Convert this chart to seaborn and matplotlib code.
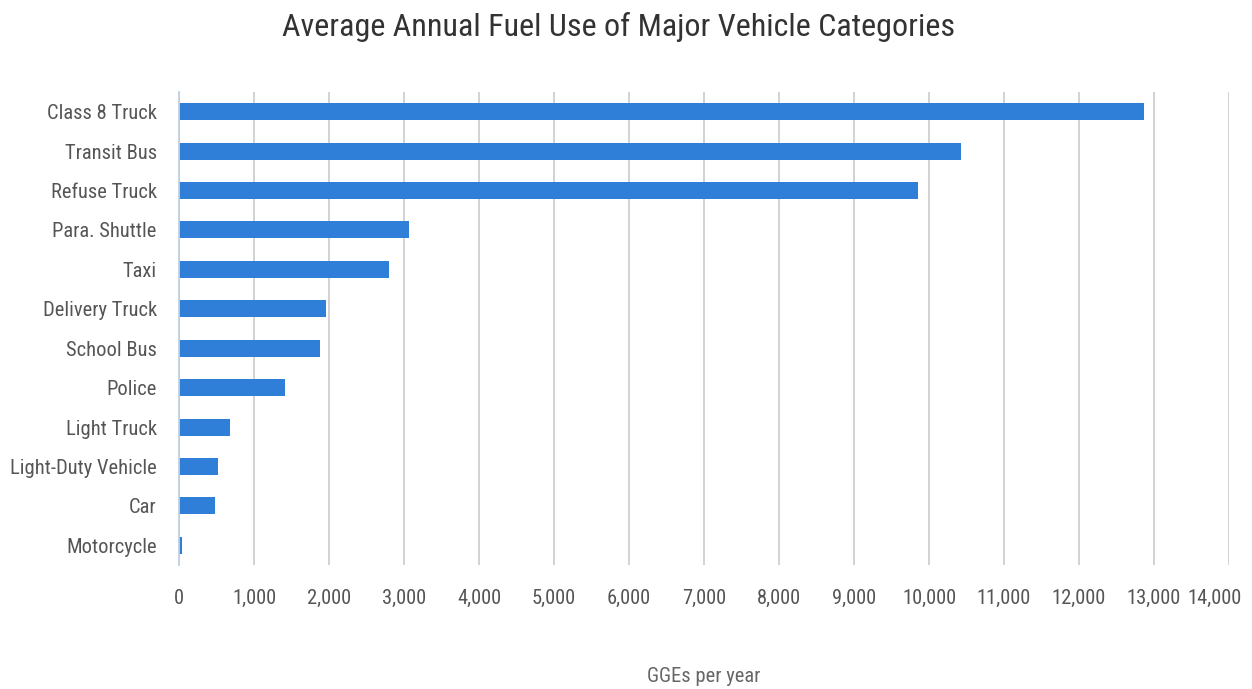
import matplotlib
matplotlib.use("Agg")
import matplotlib.pyplot as plt
from matplotlib import font_manager
from matplotlib.ticker import FixedLocator, FuncFormatter
from matplotlib.transforms import ScaledTranslation
import seaborn as sns
import pandas as pd

categories = [
    "Class 8 Truck", "Transit Bus", "Refuse Truck", "Para. Shuttle", "Taxi",
    "Delivery Truck", "School Bus", "Police", "Light Truck",
    "Light-Duty Vehicle", "Car", "Motorcycle",
]
gge_per_year = [12870, 10420, 9850, 3060, 2800, 1960, 1880, 1410, 680, 520, 480, 40]
x_ticks = list(range(0, 14001, 1000))

title = "Average Annual Fuel Use of Major Vehicle Categories"
x_label = "GGEs per year"

sns.set_theme(style="white")
available = {f.name for f in font_manager.fontManager.ttflist}
narrow = [n for n in ("Liberation Sans Narrow", "DejaVu Sans Condensed",
                      "Roboto Condensed", "Open Sans Condensed") if n in available]
family = narrow[0] if narrow else "Open Sans"
plt.rcParams["font.family"] = [family, "DejaVu Sans"]
if narrow:
    plt.rcParams["font.stretch"] = "condensed"
scale = 1.0 if narrow else 0.88

df = pd.DataFrame({"vehicle": categories, "gge": gge_per_year})

fig = plt.figure(figsize=(12.52, 6.89), dpi=100)
ax = fig.add_axes([179 / 1252, 1 - 565 / 689, (1229 - 179) / 1252, (565 - 92) / 689])

sns.barplot(data=df, x="gge", y="vehicle", orient="h", color="#2f7ed8",
            saturation=1, width=0.43, edgecolor="none", ax=ax)

ax.set_xlim(0, 14000)
ax.set_ylim(len(categories) - 0.5, -0.5)
ax.xaxis.set_major_locator(FixedLocator(x_ticks))
ax.xaxis.set_major_formatter(FuncFormatter(lambda v, _: f"{int(v):,}"))
ax.grid(axis="x", color="#c6c6c6", linewidth=1.1)
ax.set_axisbelow(True)

for side in ("top", "right", "bottom"):
    ax.spines[side].set_visible(False)
ax.spines["left"].set_color("#c0d0e0")
ax.spines["left"].set_linewidth(1.3)

label_size = 14.8 * scale
ax.tick_params(axis="x", length=0, pad=17, labelsize=label_size, labelcolor="#555555")
ax.tick_params(axis="y", which="major", length=0, pad=16, labelsize=label_size, labelcolor="#555555")
ax.set_yticks([i - 0.5 for i in range(len(categories) + 1)], minor=True)
ax.tick_params(axis="y", which="minor", length=10, width=1.3, color="#c0d0e0")

ax.set_xlabel("")
ax.set_ylabel("")

# keep the last x label inside the figure edge
last = ax.get_xticklabels()[-1]
last.set_transform(last.get_transform() + ScaledTranslation(-14 / 100, 0, fig.dpi_scale_trans))

fig.text(0.494, 1 - 27 / 689, title, ha="center", va="center", fontsize=23.1 * scale, color="#333333")
fig.text(704 / 1252, 1 - 677 / 689, x_label, ha="center", va="center", fontsize=label_size, color="#666666")

fig.savefig("out.png", dpi=100)
